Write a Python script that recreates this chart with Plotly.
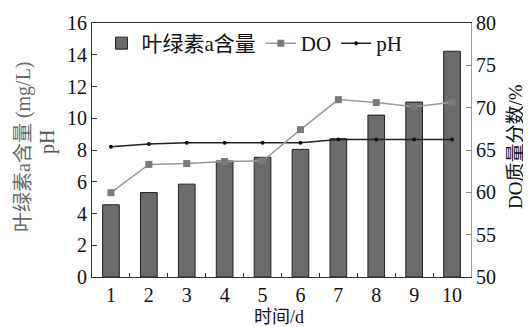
import plotly.graph_objects as go

days = [1, 2, 3, 4, 5, 6, 7, 8, 9, 10]
chla = [4.55, 5.32, 5.85, 7.31, 7.54, 8.04, 8.71, 10.2, 11.02, 14.22]
do_pct = [59.96, 63.3, 63.4, 63.65, 63.7, 67.4, 70.95, 70.6, 70.1, 70.65]
ph = [8.2, 8.38, 8.45, 8.45, 8.45, 8.45, 8.66, 8.66, 8.66, 8.66]

serif = "Liberation Serif, Times New Roman, Noto Sans CJK SC, serif"

OFF = 8  # page body margin offset
FW, FH = 531 - OFF, 327 - OFF
L, R, T, B = 92 - OFF, 471 - OFF, 23 - OFF, 277 - OFF
W, H = R - L, B - T


def px(x):
    return (x - OFF - L) / W


def py(y):
    return (B - (y - OFF)) / H


def title(text, x, y, size, color, angle=0):
    return dict(text=text, xref="paper", yref="paper", x=px(x), y=py(y),
                xanchor="center", yanchor="middle", textangle=angle,
                showarrow=False, font=dict(size=size, color=color))


fig = go.Figure()
fig.add_trace(go.Bar(x=days, y=chla, name="叶绿素a含量", width=0.44,
                     marker=dict(color="#6b6b6b", line=dict(color="#222222", width=1))))
fig.add_trace(go.Scatter(x=days, y=do_pct, name="DO", yaxis="y2", mode="lines+markers",
                         line=dict(color="#9a9a9a", width=1.5),
                         marker=dict(symbol="square", size=7, color="#7a7a7a")))
fig.add_trace(go.Scatter(x=days, y=ph, name="pH", mode="lines+markers",
                         line=dict(color="#222222", width=1.5),
                         marker=dict(symbol="circle", size=4, color="#111111")))

fig.update_layout(
    width=FW, height=FH,
    margin=dict(l=L, r=FW - R, t=T, b=FH - B, autoexpand=False),
    paper_bgcolor="white", plot_bgcolor="white",
    font=dict(family=serif, size=20, color="#111111"),
    showlegend=True,
    legend=dict(orientation="h", x=0.025, y=1.0, xanchor="left", yanchor="top",
                font=dict(size=21), bgcolor="rgba(0,0,0,0)", itemwidth=30,
                tracegroupgap=0),
    xaxis=dict(range=[0.5, 10.5], tickmode="array", tickvals=days, automargin=False,
               ticks="", showgrid=False, zeroline=False,
               showline=True, linecolor="#333333", linewidth=1.2, mirror=True,
               minor=dict(tickmode="array", tickvals=[1.5, 2.5, 3.5, 4.5, 5.5, 6.5, 7.5, 8.5, 9.5],
                          ticks="inside", ticklen=4, tickcolor="#333333"),
               tickfont=dict(size=20)),
    yaxis=dict(range=[0, 16], dtick=2, ticks="inside", ticklen=5, tickcolor="#333333",
               automargin=False,
               showgrid=False, zeroline=False, showline=True, linecolor="#333333",
               linewidth=1.2, tickfont=dict(size=20)),
    yaxis2=dict(range=[50, 80], dtick=5, overlaying="y", side="right", automargin=False,
                ticks="inside", ticklen=5, tickcolor="#888888",
                showgrid=False, zeroline=False, showline=True, linecolor="#999999",
                linewidth=1.2, tickfont=dict(size=20)),
    annotations=[
        title("叶绿素a含量 (mg/L)", 23, 147, 20, "#6a6a6a", -90),
        title("pH", 47, 142, 20, "#555555", -90),
        title("DO质量分数/%", 515, 147, 19, "#111111", -90),
        title("时间/d", 279, 317, 18, "#111111"),
    ],
)

fig.write_html("out.html")
